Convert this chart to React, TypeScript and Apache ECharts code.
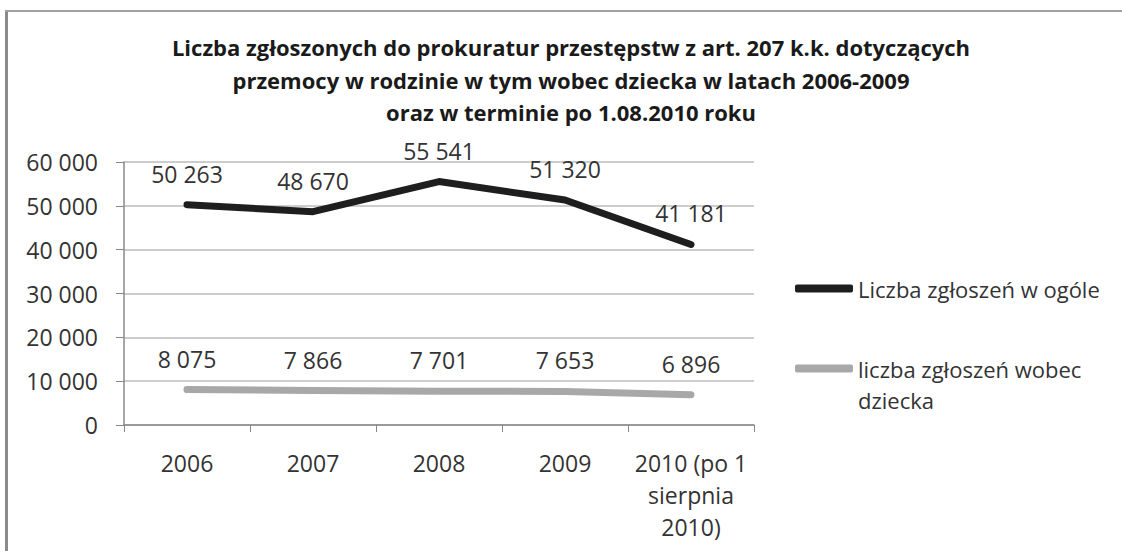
import React, { useEffect, useRef } from "react";
import * as echarts from "echarts";

const categories = ["2006", "2007", "2008", "2009", "2010 (po 1\nsierpnia\n2010)"];
const seriesNames = ["Liczba zgłoszeń w ogóle", "liczba zgłoszeń wobec dziecka"];
const totalValues = [50263, 48670, 55541, 51320, 41181];
const childValues = [8075, 7866, 7701, 7653, 6896];
const titleText =
  "Liczba zgłoszonych do prokuratur przestępstw z art. 207 k.k. dotyczących\nprzemocy w rodzinie w tym wobec dziecka w latach 2006-2009\noraz w terminie po 1.08.2010 roku";

const FONT = "Open Sans";
const fmt = (v: number) => String(v).replace(/\B(?=(\d{3})+(?!\d))/g, " ");

export default function App() {
  const ref = useRef<HTMLDivElement>(null);
  useEffect(() => {
    document.body.style.margin = "0";
    const chart = echarts.init(ref.current!, null, { renderer: "svg" });
    const labelCfg = {
      show: true,
      position: "top",
      distance: 19,
      fontFamily: FONT,
      fontSize: 23,
      color: "#333",
      formatter: (p: any) => fmt(p.value),
    };
    chart.setOption({
      animation: false,
      backgroundColor: "#ffffff",
      textStyle: { fontFamily: FONT },
      title: {
        text: titleText,
        left: 571,
        textAlign: "center",
        top: 31,
        padding: 0,
        textStyle: {
          fontFamily: FONT,
          fontSize: 22,
          fontWeight: "bold",
          color: "#1a1a1a",
          lineHeight: 32.5,
        },
      },
      graphic: [
        { type: "line", shape: { x1: 6.5, y1: 10, x2: 6.5, y2: 551 }, style: { stroke: "#8a8a8a", lineWidth: 3 } },
        { type: "line", shape: { x1: 5, y1: 11, x2: 1122, y2: 11 }, style: { stroke: "#a0a0a0", lineWidth: 2 } },
      ],
      legend: [
        {
          orient: "vertical",
          left: 790,
          top: 268,
          padding: 5,
          icon: "roundRect",
          itemWidth: 58,
          itemHeight: 8,
          data: [seriesNames[0]],
          textStyle: { fontFamily: FONT, fontSize: 22, color: "#333", lineHeight: 31 },
        },
        {
          orient: "vertical",
          left: 790,
          top: 317,
          padding: 5,
          icon: "roundRect",
          itemWidth: 58,
          itemHeight: 8,
          data: [seriesNames[1]],
          formatter: () => " \nliczba zgłoszeń wobec\ndziecka",
          textStyle: { fontFamily: FONT, fontSize: 22, color: "#333", lineHeight: 31 },
        },
      ],
      grid: { left: 124, right: 368, top: 162, bottom: 126 },
      xAxis: {
        type: "category",
        data: categories,
        boundaryGap: true,
        axisLine: { lineStyle: { color: "#888", width: 1.5 } },
        axisTick: { show: true, length: 7, alignWithLabel: false, lineStyle: { color: "#888" } },
        axisLabel: { margin: 22, fontFamily: FONT, fontSize: 23, color: "#333", lineHeight: 32, interval: 0 },
      },
      yAxis: {
        type: "value",
        min: 0,
        max: 60000,
        interval: 10000,
        axisLine: { show: true, lineStyle: { color: "#888", width: 1.5 } },
        axisTick: { show: true, length: 8, lineStyle: { color: "#888" } },
        splitLine: { lineStyle: { color: "#bdbdbd", width: 1.5 } },
        axisLabel: { margin: 26, fontFamily: FONT, fontSize: 23, color: "#333", formatter: (v: number) => fmt(v) },
      },
      series: [
        {
          name: seriesNames[0],
          type: "line",
          data: totalValues,
          showSymbol: true,
          symbol: "circle",
          symbolSize: 1,
          color: "#1e1e1e",
          itemStyle: { color: "#1e1e1e" },
          lineStyle: { color: "#1e1e1e", width: 7, cap: "round", join: "round" },
          label: labelCfg,
        },
        {
          name: seriesNames[1],
          type: "line",
          data: childValues,
          showSymbol: true,
          symbol: "circle",
          symbolSize: 1,
          color: "#a8a8a8",
          itemStyle: { color: "#a8a8a8" },
          lineStyle: { color: "#a8a8a8", width: 7, cap: "round", join: "round" },
          label: labelCfg,
        },
      ],
    });
    return () => chart.dispose();
  }, []);
  return <div ref={ref} style={{ width: 1122, height: 551 }} />;
}
